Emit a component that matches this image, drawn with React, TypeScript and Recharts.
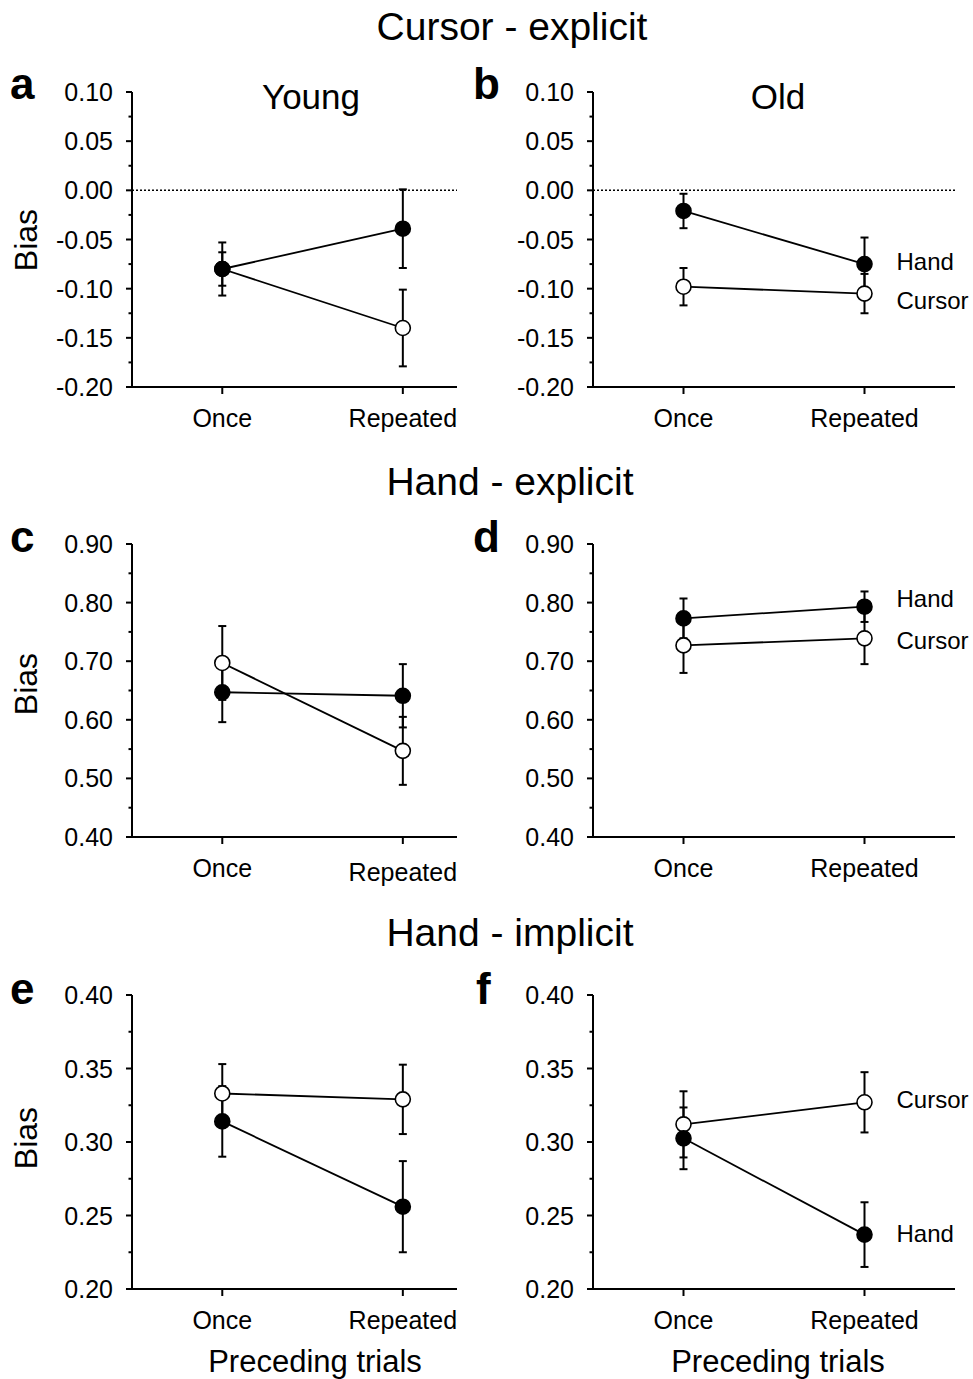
import React from 'react';
import { LineChart, Line, XAxis, YAxis, ErrorBar, ReferenceLine, LabelList } from 'recharts';

// ---------- categories & tick labels ----------
const categories = ['Once', 'Repeated'];
const categoryPositions = [1, 2];

const ticksCursorExplicit = [0.1, 0.075, 0.05, 0.025, 0, -0.025, -0.05, -0.075, -0.1, -0.125, -0.15, -0.175, -0.2];
const ticksHandExplicit = [0.9, 0.85, 0.8, 0.75, 0.7, 0.65, 0.6, 0.55, 0.5, 0.45, 0.4];
const ticksHandImplicit = [0.4, 0.375, 0.35, 0.325, 0.3, 0.275, 0.25, 0.225, 0.2];

// ---------- series values (bias, error) ----------
// a: Cursor - explicit, Young
const aHand = [-0.08, -0.039];
const aHandErr = [0.027, 0.04];
const aCursor = [-0.08, -0.14];
const aCursorErr = [0.017, 0.039];
// b: Cursor - explicit, Old
const bHand = [-0.021, -0.075];
const bHandErr = [0.0175, 0.027];
const bCursor = [-0.098, -0.105];
const bCursorErr = [0.019, 0.02];
// c: Hand - explicit, Young
const cHand = [0.647, 0.641];
const cHandErr = [0.051, 0.054];
const cCursor = [0.697, 0.547];
const cCursorErr = [0.063, 0.058];
// d: Hand - explicit, Old
const dHand = [0.773, 0.793];
const dHandErr = [0.034, 0.026];
const dCursor = [0.727, 0.739];
const dCursorErr = [0.047, 0.044];
// e: Hand - implicit, Young
const eHand = [0.314, 0.256];
const eHandErr = [0.024, 0.031];
const eCursor = [0.333, 0.329];
const eCursorErr = [0.02, 0.0236];
// f: Hand - implicit, Old
const fHand = [0.3025, 0.237];
const fHandErr = [0.021, 0.022];
const fCursor = [0.312, 0.327];
const fCursorErr = [0.0225, 0.0205];

const FONT = '"Liberation Sans", Arial, Helvetica, sans-serif';

function buildRows(hand: number[], handErr: number[], cursor: number[], cursorErr: number[]) {
  return categories.map((c, i) => ({
    x: categoryPositions[i],
    cat: c,
    hand: hand[i],
    handErr: handErr[i],
    cursor: cursor[i],
    cursorErr: cursorErr[i],
  }));
}

const XTick = (props: any) => {
  const { x, y, payload, repDy } = props;
  const v = Math.round(payload.value);
  const label = categories[categoryPositions.indexOf(v)];
  return (
    <g>
      <line x1={x} x2={x} y1={y} y2={y + 7} stroke="#000" strokeWidth={2} />
      <text x={x} y={y + 40 + (v === 2 ? repDy : 0)} textAnchor="middle" fontSize={25} fontFamily={FONT} fill="#000">
        {label}
      </text>
    </g>
  );
};

const YTick = (props: any) => {
  const { x, y, payload, majorStep } = props;
  const v = payload.value as number;
  const r = v / majorStep;
  const major = Math.abs(r - Math.round(r)) < 1e-6;
  return (
    <g>
      <line x1={x - (major ? 6 : 3.5)} x2={x} y1={y} y2={y} stroke="#000" strokeWidth={2} />
      {major && (
        <text x={x - 19} y={y + 9} textAnchor="end" fontSize={25} fontFamily={FONT} fill="#000">
          {v.toFixed(2)}
        </text>
      )}
    </g>
  );
};

const makeSeriesLabel = (text: string, dy: number) => (p: any) => {
  const idx = p.index;
  const px = p.x ?? p.viewBox?.x;
  const py = p.y ?? p.viewBox?.y;
  if (idx !== 1 || px == null || py == null) return null;
  return (
    <text x={px + 32} y={py + dy + 7} textAnchor="start" fontSize={24} fontFamily={FONT} fill="#000">
      {text}
    </text>
  );
};

type PanelProps = {
  col: 0 | 1;
  plotTop: number;
  plotBottom: number;
  data: any[];
  domain: [number, number];
  ticks: number[];
  majorStep: number;
  refZero?: boolean;
  labels?: { handDy: number; cursorDy: number };
  repDy?: number;
};

const Panel = ({ col, plotTop, plotBottom, data, domain, ticks, majorStep, refZero, labels, repDy = 0 }: PanelProps) => {
  const chartLeft = col === 0 ? 0 : 470;
  const width = col === 0 ? 470 : 503;
  const margin = col === 0 ? { top: 20, right: 13, bottom: 0, left: 72 } : { top: 20, right: 18, bottom: 0, left: 63 };
  const xDomain: [number, number] = col === 0 ? [0.5, 2.3] : [0.5, 2.5];
  const top = plotTop - 20;
  const height = plotBottom - plotTop + 20 + 50;
  return (
    <div style={{ position: 'absolute', left: chartLeft, top, width, height }}>
      <LineChart width={width} height={height} data={data} margin={margin}>
        <XAxis
          type="number"
          dataKey="x"
          domain={xDomain}
          ticks={categoryPositions}
          interval={0}
          height={50}
          tickSize={0}
          tickMargin={0}
          tickLine={false}
          axisLine={{ stroke: '#000', strokeWidth: 2 }}
          tick={(p: any) => <XTick {...p} repDy={repDy} />}
        />
        <YAxis
          type="number"
          domain={domain}
          ticks={ticks}
          interval={0}
          width={60}
          tickSize={0}
          tickMargin={0}
          tickLine={false}
          axisLine={{ stroke: '#000', strokeWidth: 2 }}
          tick={(p: any) => <YTick {...p} majorStep={majorStep} />}
        />
        {refZero && <ReferenceLine y={0} stroke="#000" strokeWidth={1.5} strokeDasharray="2 2" />}
        <Line
          dataKey="cursor"
          type="linear"
          stroke="#000"
          strokeWidth={1.8}
          dot={{ r: 7.5, fill: '#fff', stroke: '#000', strokeWidth: 1.6 }}
          activeDot={false}
          isAnimationActive={false}
        >
          <ErrorBar dataKey="cursorErr" direction="y" width={4} stroke="#000" strokeWidth={2} isAnimationActive={false} />
          {labels && <LabelList dataKey="cursor" content={makeSeriesLabel('Cursor', labels.cursorDy)} />}
        </Line>
        <Line
          dataKey="hand"
          type="linear"
          stroke="#000"
          strokeWidth={1.8}
          dot={{ r: 7.5, fill: '#000', stroke: '#000', strokeWidth: 1.6 }}
          activeDot={false}
          isAnimationActive={false}
        >
          <ErrorBar dataKey="handErr" direction="y" width={4} stroke="#000" strokeWidth={2} isAnimationActive={false} />
          {labels && <LabelList dataKey="hand" content={makeSeriesLabel('Hand', labels.handDy)} />}
        </Line>
      </LineChart>
    </div>
  );
};

export default function App() {
  const rows = [
    { top: 92, bottom: 387 },
    { top: 544, bottom: 837 },
    { top: 995, bottom: 1289 },
  ];
  return (
    <div style={{ position: 'absolute', left: 0, top: 0, width: 973, height: 1379, background: '#fff', fontFamily: FONT, overflow: 'hidden' }}>
      <Panel col={0} plotTop={rows[0].top} plotBottom={rows[0].bottom} data={buildRows(aHand, aHandErr, aCursor, aCursorErr)}
        domain={[-0.2, 0.1]} ticks={ticksCursorExplicit} majorStep={0.05} refZero />
      <Panel col={1} plotTop={rows[0].top} plotBottom={rows[0].bottom} data={buildRows(bHand, bHandErr, bCursor, bCursorErr)}
        domain={[-0.2, 0.1]} ticks={ticksCursorExplicit} majorStep={0.05} refZero labels={{ handDy: -1, cursorDy: 8 }} />
      <Panel col={0} plotTop={rows[1].top} plotBottom={rows[1].bottom} data={buildRows(cHand, cHandErr, cCursor, cCursorErr)}
        domain={[0.4, 0.9]} ticks={ticksHandExplicit} majorStep={0.1} repDy={4} />
      <Panel col={1} plotTop={rows[1].top} plotBottom={rows[1].bottom} data={buildRows(dHand, dHandErr, dCursor, dCursorErr)}
        domain={[0.4, 0.9]} ticks={ticksHandExplicit} majorStep={0.1} labels={{ handDy: -7, cursorDy: 4 }} />
      <Panel col={0} plotTop={rows[2].top} plotBottom={rows[2].bottom} data={buildRows(eHand, eHandErr, eCursor, eCursorErr)}
        domain={[0.2, 0.4]} ticks={ticksHandImplicit} majorStep={0.05} />
      <Panel col={1} plotTop={rows[2].top} plotBottom={rows[2].bottom} data={buildRows(fHand, fHandErr, fCursor, fCursorErr)}
        domain={[0.2, 0.4]} ticks={ticksHandImplicit} majorStep={0.05} labels={{ handDy: 0, cursorDy: -1 }} />

      <svg width={973} height={1379} style={{ position: 'absolute', left: 0, top: 0, pointerEvents: 'none' }}>
        <g fontFamily={FONT} fill="#000">
          <text x={512} y={40} textAnchor="middle" fontSize={39}>Cursor - explicit</text>
          <text x={510} y={495} textAnchor="middle" fontSize={39}>Hand - explicit</text>
          <text x={510} y={946} textAnchor="middle" fontSize={39}>Hand - implicit</text>

          <text x={311} y={109} textAnchor="middle" fontSize={35}>Young</text>
          <text x={778} y={109} textAnchor="middle" fontSize={35}>Old</text>

          <text x={10} y={99} fontSize={44} fontWeight="bold">a</text>
          <text x={473} y={99} fontSize={44} fontWeight="bold">b</text>
          <text x={10} y={552} fontSize={44} fontWeight="bold">c</text>
          <text x={473} y={552} fontSize={44} fontWeight="bold">d</text>
          <text x={10} y={1004} fontSize={44} fontWeight="bold">e</text>
          <text x={476} y={1004} fontSize={44} fontWeight="bold">f</text>

          <text x={37} y={240} textAnchor="middle" fontSize={32} transform="rotate(-90 37 240)">Bias</text>
          <text x={37} y={684} textAnchor="middle" fontSize={32} transform="rotate(-90 37 684)">Bias</text>
          <text x={37} y={1138} textAnchor="middle" fontSize={32} transform="rotate(-90 37 1138)">Bias</text>

          <text x={315} y={1372} textAnchor="middle" fontSize={31}>Preceding trials</text>
          <text x={778} y={1372} textAnchor="middle" fontSize={31}>Preceding trials</text>
        </g>
      </svg>
    </div>
  );
}
